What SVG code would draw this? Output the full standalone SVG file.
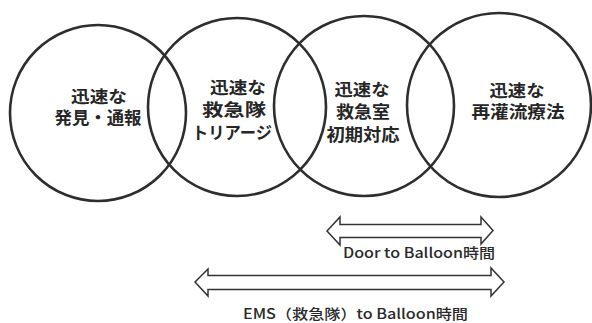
<svg xmlns="http://www.w3.org/2000/svg" width="592" height="323" viewBox="0 0 592 323">
<style>
.c{fill:none;stroke:#2e2e2e;stroke-width:2.6}
.t{font-family:"Noto Sans CJK JP","Noto Sans",sans-serif;font-size:17px;font-weight:bold;fill:#262626;text-anchor:middle}
.a{fill:#fff;stroke:#333;stroke-width:1.5;stroke-linejoin:miter}
.l{font-family:"Noto Sans CJK JP","Noto Sans",sans-serif;font-size:14px;font-weight:500;fill:#2a2a2a}
</style>
<rect width="592" height="323" fill="#fff"/>
<g id="node1">
<circle class="c" cx="98" cy="113" r="88"/>
<text class="t" x="99" y="103" textLength="56" lengthAdjust="spacingAndGlyphs">迅速な</text>
<text class="t" x="98" y="124" textLength="87" lengthAdjust="spacingAndGlyphs">発見・通報</text>
</g>
<g id="node2">
<circle class="c" cx="237" cy="107" r="89"/>
<text class="t" x="238" y="94" textLength="56" lengthAdjust="spacingAndGlyphs">迅速な</text>
<text class="t" x="234" y="116" textLength="64" lengthAdjust="spacingAndGlyphs">救急隊</text>
<text class="t" x="232" y="139" textLength="80" lengthAdjust="spacingAndGlyphs">トリアージ</text>
</g>
<g id="node3">
<circle class="c" cx="364" cy="106" r="90"/>
<text class="t" x="362" y="96" textLength="55" lengthAdjust="spacingAndGlyphs">迅速な</text>
<text class="t" x="363" y="118" textLength="54" lengthAdjust="spacingAndGlyphs">救急室</text>
<text class="t" x="363" y="141" textLength="73" lengthAdjust="spacingAndGlyphs">初期対応</text>
</g>
<g id="node4">
<circle class="c" cx="499" cy="105" r="92"/>
<text class="t" x="517" y="97" textLength="55" lengthAdjust="spacingAndGlyphs">迅速な</text>
<text class="t" x="518" y="118" textLength="93" lengthAdjust="spacingAndGlyphs">再灌流療法</text>
</g>
<g id="connectors">
<path class="a" d="M327,231 L340,217 L340,224.5 L481,224.5 L481,217 L493,230.5 L481,244 L481,237.5 L340,237.5 L340,245 Z"/>
<path class="a" d="M195,282 L208,269 L208,275.5 L491,275.5 L491,268 L504,282 L491,296 L491,289.5 L208,289.5 L208,296 Z"/>
<text class="l" x="343" y="258" textLength="152" lengthAdjust="spacingAndGlyphs">Door to Balloon時間</text>
<text class="l" x="243" y="319" textLength="225" lengthAdjust="spacingAndGlyphs">EMS（救急隊）to Balloon時間</text>
</g>
</svg>
